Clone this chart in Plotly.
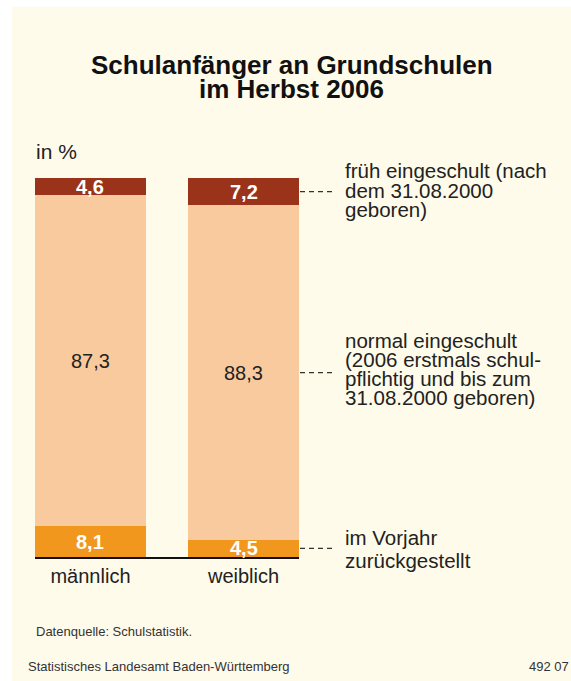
import plotly.graph_objects as go

# ---------------- data ----------------
categories = ["männlich", "weiblich"]
series_names = ["im Vorjahr zurückgestellt", "normal eingeschult", "früh eingeschult"]
late_vals = [8.1, 4.5]      # im Vorjahr zurückgestellt (bottom)
normal_vals = [87.3, 88.3]  # normal eingeschult (middle)
early_vals = [4.6, 7.2]     # früh eingeschult (top)

title_lines = ["Schulanfänger an Grundschulen", "im Herbst 2006"]
unit_label = "in %"
early_label = ["früh eingeschult (nach", "dem 31.08.2000", "geboren)"]
normal_label = ["normal eingeschult", "(2006 erstmals schul-", "pflichtig und bis zum", "31.08.2000 geboren)"]
late_label = ["im Vorjahr", "zurückgestellt"]
source_text = "Datenquelle: Schulstatistik."
footer_left = "Statistisches Landesamt Baden-Württemberg"
footer_right = "492 07"

# ---------------- style ----------------
W, H = 571, 681
L, R, T, B = 35, 299, 178, 557
C_DARK = "#9A331A"
C_PEACH = "#F8CA9D"
C_ORANGE = "#F1971E"
C_BG = "#FFFBEA"
TXT = "#222222"
FONT = "Liberation Sans, Arial, sans-serif"
BAR_W = 0.725


def px_x(p):
    return (p - L) / (R - L)


def px_y(p):
    return (B - p) / (B - T)


fig = go.Figure()
stack = [
    (late_vals, C_ORANGE, series_names[0]),
    (normal_vals, C_PEACH, series_names[1]),
    (early_vals, C_DARK, series_names[2]),
]
for vals, col, name in stack:
    fig.add_trace(go.Bar(
        x=categories, y=vals, name=name, width=BAR_W,
        marker=dict(color=col, line=dict(width=0)),
        hoverinfo="skip", showlegend=False,
    ))

annotations = []
shapes = []

# background panel
shapes.append(dict(type="rect", xref="paper", yref="paper",
                   x0=px_x(12), x1=px_x(W + 5), y0=px_y(7), y1=px_y(H + 5),
                   fillcolor=C_BG, line=dict(width=0), layer="below"))


def fmt(v):
    return f"{v:.1f}".replace(".", ",")


# value labels
base = [0.0, 0.0]
centers = []
for si, (vals, col, name) in enumerate(stack):
    cs = []
    for ci, cat in enumerate(categories):
        v = vals[ci]
        c = base[ci] + v / 2
        cs.append(c)
        bold = si != 1
        annotations.append(dict(
            x=cat, y=c, xref="x", yref="y", showarrow=False,
            text=(f"<b>{fmt(v)}</b>" if bold else fmt(v)),
            font=dict(family=FONT, size=20, color="white" if bold else TXT),
            xanchor="center", yanchor="middle",
        ))
        base[ci] += v
    centers.append(cs)

# right side labels with dashed connectors (attached to second bar)
label_sets = [
    (late_label, centers[0][1], [-10.7, 11.7]),
    (normal_label, centers[1][1], [-32.4, -13.4, 5.9, 24.9]),
    (early_label, centers[2][1], [-21.3, -1.3, 18.2]),
]
for lines, yc, offs in label_sets:
    shapes.append(dict(type="line", xref="paper", yref="y",
                       x0=px_x(300), x1=px_x(335), y0=yc, y1=yc,
                       line=dict(color="#333333", width=1.2, dash="5px,4px")))
    for ln, off in zip(lines, offs):
        annotations.append(dict(
            x=px_x(343), y=yc, xref="paper", yref="y", yshift=-off,
            text=ln, showarrow=False, xanchor="left", yanchor="middle",
            font=dict(family=FONT, size=20.5, color=TXT),
        ))

# title
for ln, yc in zip(title_lines, [64.9, 89.3]):
    annotations.append(dict(
        x=px_x(291.5), y=px_y(yc), xref="paper", yref="paper",
        text=f"<b>{ln}</b>", showarrow=False, xanchor="center", yanchor="middle",
        font=dict(family=FONT, size=26, color="#111111"),
    ))

# unit
annotations.append(dict(
    x=px_x(34), y=px_y(151.5), xref="paper", yref="paper", text=unit_label,
    showarrow=False, xanchor="left", yanchor="middle",
    font=dict(family=FONT, size=21, color=TXT),
))

# source / footer
annotations.append(dict(
    x=px_x(34), y=px_y(631), xref="paper", yref="paper", text=source_text,
    showarrow=False, xanchor="left", yanchor="middle",
    font=dict(family=FONT, size=13, color="#333333"),
))
annotations.append(dict(
    x=px_x(26), y=px_y(666), xref="paper", yref="paper", text=footer_left,
    showarrow=False, xanchor="left", yanchor="middle",
    font=dict(family=FONT, size=13, color="#333333"),
))
annotations.append(dict(
    x=px_x(571), y=px_y(666), xref="paper", yref="paper", text=footer_right,
    showarrow=False, xanchor="right", yanchor="middle",
    font=dict(family=FONT, size=13, color="#333333"),
))

fig.update_layout(
    width=W, height=H, autosize=False,
    margin=dict(l=L, r=W - R, t=T, b=H - B, pad=0),
    paper_bgcolor="white", plot_bgcolor=C_BG,
    barmode="stack", bargap=1 - BAR_W,
    separators=",.",
    showlegend=False,
    annotations=annotations, shapes=shapes,
    xaxis=dict(
        type="category", range=[-BAR_W / 2, 1 + BAR_W / 2],
        showline=True, linecolor="#111111", linewidth=1.5,
        showgrid=False, zeroline=False, ticks="",
        tickfont=dict(family=FONT, size=20, color=TXT),
        automargin=False, fixedrange=True,
    ),
    yaxis=dict(range=[0, 100], visible=False, showgrid=False, zeroline=False,
               automargin=False, fixedrange=True),
)

fig.write_html(
    "out.html",
    config={"displayModeBar": False, "staticPlot": True},
    post_script="document.documentElement.style.margin='0';"
                "document.documentElement.style.overflow='hidden';"
                "document.body.style.margin='0';"
                "document.body.style.overflow='hidden';",
)
